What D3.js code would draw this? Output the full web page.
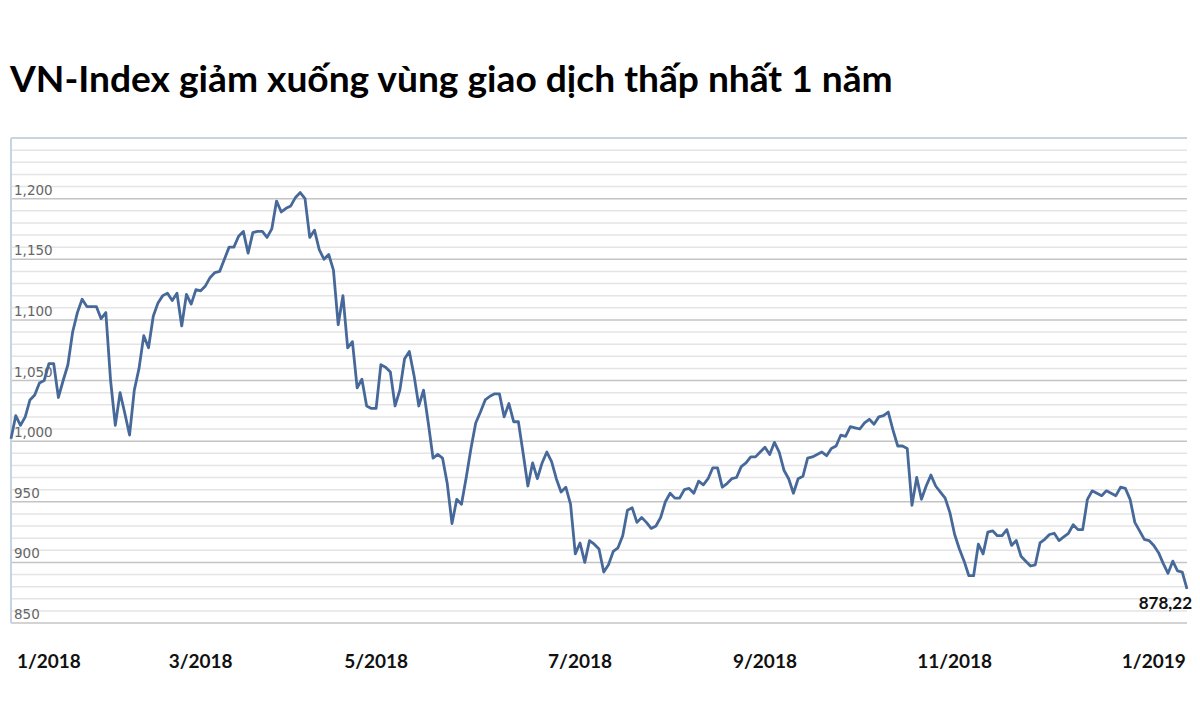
<!DOCTYPE html>
<html>
<head>
<meta charset="utf-8">
<script src="https://cdn.jsdelivr.net/npm/d3@7"></script>
<style>
  body { margin: 0; background: #fff; }
  svg { display: block; }
</style>
</head>
<body>
<div id="chart"></div>
<script>
// Chart data
const chartTitle = "VN-Index giảm xuống vùng giao dịch thấp nhất 1 năm";

// daily closing values of VN-Index, 1/2018 -> 1/2019 (trading days)
const closeValues = [
    1002, 1021, 1013, 1020, 1034, 1038, 1048, 1050, 1064, 1064,
    1036, 1050, 1063, 1090, 1106, 1117, 1111, 1111, 1111, 1101,
    1106, 1050, 1013, 1040, 1023, 1005, 1042, 1060, 1087, 1077,
    1103, 1114, 1120, 1122, 1116, 1122, 1095, 1121, 1113, 1125,
    1124, 1128,
    1135, 1139, 1140, 1150, 1160, 1160, 1169, 1173, 1155, 1172,
    1173, 1173, 1168, 1175, 1198, 1189, 1192, 1194, 1201, 1205,
    1200, 1168, 1174, 1158, 1150, 1154, 1141, 1096, 1120, 1077,
    1082, 1044, 1051, 1029, 1027, 1027, 1063, 1061, 1057, 1029,
    1042, 1068, 1074,
    1054, 1029, 1042, 1015, 986, 989, 986, 965, 932, 952,
    948, 970, 994, 1015, 1024, 1034, 1037, 1039, 1039, 1020,
    1031, 1016, 1016, 990, 963, 982, 969, 982, 991, 983,
    969, 958, 962, 948, 907, 916, 900, 918, 915, 911,
    892, 898, 909, 912, 922, 943, 945, 933, 937, 933,
    928, 930, 937, 950, 957, 953, 953, 960, 961, 957,
    967, 964, 969, 978, 978, 962, 965, 969, 970, 979,
    982, 987, 987, 991, 995, 989, 999, 991, 976, 969,
    957, 969, 971,
    986, 987, 989, 991, 988, 994, 996, 1005, 1004, 1012,
    1011, 1010, 1015, 1018, 1014, 1020, 1021, 1024, 1009, 996,
    996, 994, 947, 970, 952, 963, 972, 963, 958, 953,
    941, 923, 911, 901, 889, 889, 915, 907, 925, 926,
    922, 922, 927,
    914, 918, 905, 901, 897, 898, 916, 919, 923, 924,
    918, 921, 924, 931, 927, 927, 952, 959, 957, 955,
    959, 957, 955, 962, 961, 952, 933, 926, 919, 918,
    914, 908, 899, 891, 901, 893, 892, 878.22
];

// month labels and the trading day each one sits under
const monthLabels = ["1/2018", "3/2018", "5/2018", "7/2018", "9/2018", "11/2018", "1/2019"];
const monthIndex = [8, 40, 77, 120, 159, 199, 241];

const yDomain = [850, 1250];
const yLabelValues = [850, 900, 950, 1000, 1050, 1100, 1150, 1200];
const lastLabel = "878,22";

// Layout
const W = 1200, H = 724;
const plot = {left: 11, right: 1187, top: 138, bottom: 623};

const svg = d3.select("#chart").append("svg")
    .attr("width", W)
    .attr("height", H);

const x = d3.scaleLinear()
    .domain([0, closeValues.length - 1])
    .range([plot.left, plot.right]);

const y = d3.scaleLinear()
    .domain(yDomain)
    .range([plot.bottom, plot.top]);

// Title, fitted to the same width as in the picture
const title = svg.append("text")
    .attr("x", 10)
    .attr("y", 92)
    .style("font-family", "Lato, 'Open Sans', sans-serif")
    .style("font-weight", "bold")
    .style("font-size", "36px")
    .style("fill", "#000")
    .text(chartTitle);
const tw = title.node().getComputedTextLength();
title.style("font-size", (36 * 883 / tw).toFixed(2) + "px");

// Grid: minor lines every 10, major every 50
const minorTicks = d3.range(yDomain[0] + 10, yDomain[1], 10).filter(v => v % 50 !== 0);
const majorTicks = d3.range(yDomain[0], yDomain[1], 50);

svg.append("g")
    .selectAll("line")
    .data(minorTicks)
    .join("line")
    .attr("x1", plot.left)
    .attr("x2", plot.right)
    .attr("y1", d => y(d))
    .attr("y2", d => y(d))
    .style("stroke", "#e4e4e4")
    .style("stroke-width", 1.5);

svg.append("g")
    .selectAll("line")
    .data(majorTicks)
    .join("line")
    .attr("x1", plot.left)
    .attr("x2", plot.right)
    .attr("y1", d => y(d))
    .attr("y2", d => y(d))
    .style("stroke", "#c4c4c4")
    .style("stroke-width", 1.5);

// top border
svg.append("line")
    .attr("x1", plot.left)
    .attr("x2", plot.right)
    .attr("y1", y(yDomain[1]))
    .attr("y2", y(yDomain[1]))
    .style("stroke", "#cbd3dc")
    .style("stroke-width", 2);

// left axis line
svg.append("line")
    .attr("x1", plot.left)
    .attr("x2", plot.left)
    .attr("y1", y(yDomain[1]))
    .attr("y2", y(yDomain[0]))
    .style("stroke", "#c6d4e3")
    .style("stroke-width", 2);

// y labels sit just above their gridline
svg.append("g")
    .selectAll("text")
    .data(yLabelValues)
    .join("text")
    .attr("x", plot.left + 3)
    .attr("y", d => y(d) - 4)
    .style("font-family", "'DejaVu Sans', Verdana, sans-serif")
    .style("font-size", "13.5px")
    .style("fill", "#666")
    .text(d => d3.format(",")(d));

// the index line
const line = d3.line()
    .x((d, i) => x(i))
    .y(d => y(d));

svg.append("path")
    .datum(closeValues)
    .attr("d", line)
    .style("fill", "none")
    .style("stroke", "#46699a")
    .style("stroke-width", 2.8)
    .style("stroke-linejoin", "round");

// last value label
const lastI = closeValues.length - 1;
svg.append("text")
    .attr("x", x(lastI) + 5)
    .attr("y", y(closeValues[lastI]) + 20)
    .attr("text-anchor", "end")
    .style("font-family", "Lato, 'Open Sans', sans-serif")
    .style("font-weight", "bold")
    .style("font-size", "17px")
    .style("fill", "#111")
    .text(lastLabel);

// month labels under the chart
svg.append("g")
    .selectAll("text")
    .data(monthLabels)
    .join("text")
    .attr("x", (d, i) => x(monthIndex[i]))
    .attr("y", 668)
    .attr("text-anchor", "middle")
    .style("font-family", "Lato, 'Open Sans', sans-serif")
    .style("font-weight", "bold")
    .style("font-size", "19px")
    .style("fill", "#111")
    .text(d => d);
</script>
</body>
</html>
